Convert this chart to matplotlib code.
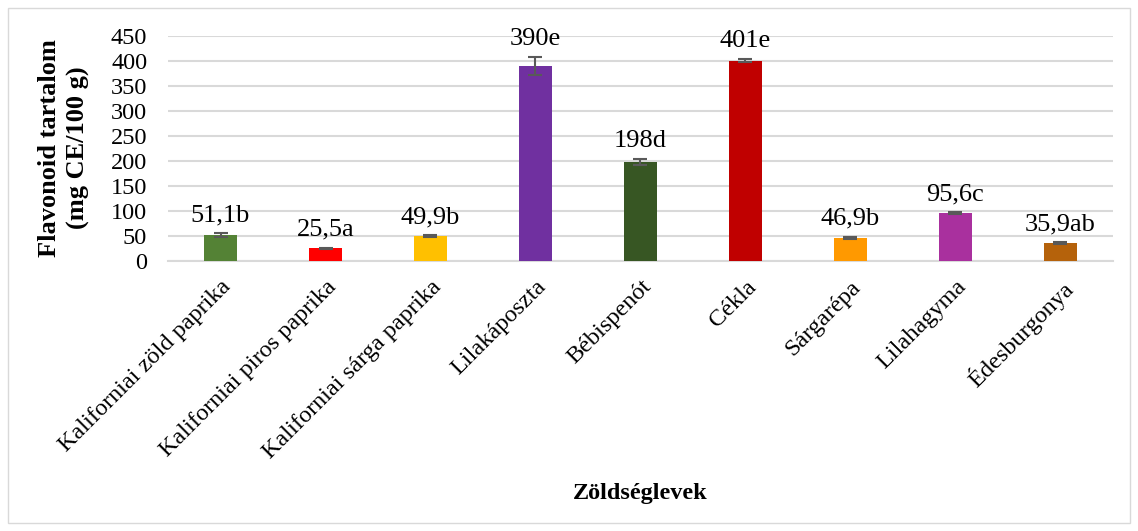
import matplotlib
matplotlib.use('Agg')
from matplotlib import pyplot as plt
from matplotlib.patches import Rectangle
from matplotlib.transforms import ScaledTranslation
import numpy as np

categories = ['Kaliforniai zöld paprika', 'Kaliforniai piros paprika', 'Kaliforniai sárga paprika',
              'Lilakáposzta', 'Bébispenót', 'Cékla', 'Sárgarépa', 'Lilahagyma', 'Édesburgonya']
values = [51.1, 25.5, 49.9, 390, 198, 401, 46.9, 95.6, 35.9]
errors = [4, 1.2, 2, 18, 6, 3, 2, 2, 1.5]
labels = ['51,1b', '25,5a', '49,9b', '390e', '198d', '401e', '46,9b', '95,6c', '35,9ab']
colors = ['#548235', '#FF0000', '#FFC000', '#7030A0', '#375623', '#C00000', '#FF9900', '#A9309E', '#B5620B']
yticks = np.arange(0, 451, 50)

plt.rcParams['font.family'] = ['Liberation Serif', 'DejaVu Serif']

fig = plt.figure(figsize=(11.38, 5.31), dpi=100)
ax = fig.add_axes([168 / 1138, 1 - 261 / 531, 945 / 1138, 225 / 531])

x = np.arange(len(categories))
ax.bar(x, values, width=0.32, color=colors, zorder=3,
       yerr=errors, error_kw=dict(ecolor='#595959', capsize=5, elinewidth=1.5, capthick=1.5, zorder=4))

for xi, v, e, lab in zip(x, values, errors, labels):
    ax.annotate(lab, (xi, v + e), xytext=(0, 5), textcoords='offset points',
                ha='center', va='bottom', fontsize=19)

ax.set_xlim(-0.5, len(categories) - 0.5)
ax.set_ylim(0, 450)
ax.set_yticks(yticks)
ax.set_yticklabels([str(t) for t in yticks], fontsize=17.5)
ax.set_xticks(x)
ax.set_xticklabels(categories, rotation=45, ha='right', rotation_mode='anchor', fontsize=17.5)
for t in ax.get_xticklabels():
    t.set_transform(t.get_transform() + ScaledTranslation(0.12, 0, fig.dpi_scale_trans))
ax.tick_params(axis='both', length=0)
ax.tick_params(axis='y', pad=15)
ax.tick_params(axis='x', pad=11)
ax.grid(axis='y', color='#D9D9D9', linewidth=1.5, zorder=0)
for s in ['top', 'right', 'left']:
    ax.spines[s].set_visible(False)
ax.spines['bottom'].set_color('#D9D9D9')
ax.spines['bottom'].set_linewidth(1.5)

fig.text(64 / 1138, 1 - 148 / 531, 'Flavonoid tartalom\n(mg CE/100 g)', rotation=90,
         ha='center', va='center', fontsize=19, fontweight='bold', linespacing=1.3)
fig.text(640 / 1138, 1 - 493 / 531, 'Zöldséglevek', ha='center', va='center',
         fontsize=17.5, fontweight='bold')

fig.patches.append(Rectangle((8 / 1138, 8 / 531), 1122 / 1138, 515 / 531, transform=fig.transFigure,
                             fill=False, edgecolor='#D9D9D9', linewidth=1))

fig.savefig('out.png', dpi=100)
